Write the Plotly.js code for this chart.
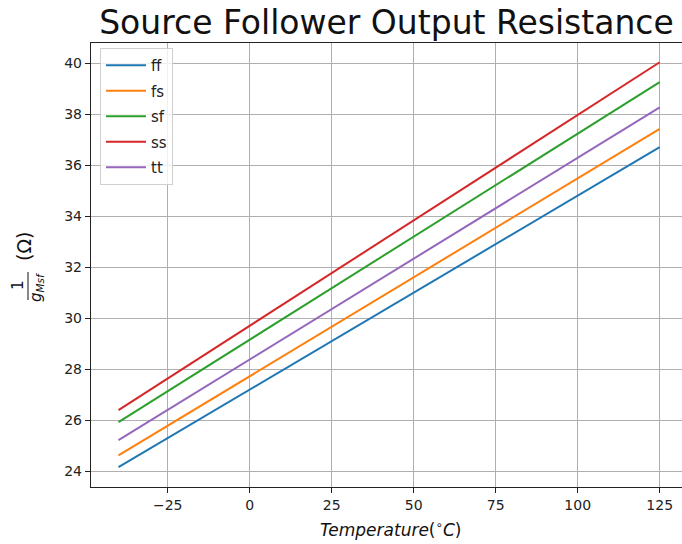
<!DOCTYPE html>
<html>
<head>
<meta charset="utf-8">
<script src="https://cdn.plot.ly/plotly-3.0.1.min.js"></script>
<style>html,body{margin:0;padding:0;background:#fff;}#chart{width:682px;height:544px;}</style>
</head>
<body>
<div id="chart"></div>
<script>
// Temperature sweep (°C)
const temperature = [-40, 125];
// Output resistance 1/gMsf (Ω) per process corner
const ff = [24.16, 36.71];
const fs = [24.62, 37.43];
const sf = [25.93, 39.26];
const ss = [26.40, 40.04];
const tt = [25.22, 38.27];

const seriesNames = ['ff', 'fs', 'sf', 'ss', 'tt'];
const seriesValues = [ff, fs, sf, ss, tt];
const colors = ['#1f77b4', '#ff7f0e', '#2ca02c', '#d62728', '#9467bd'];

const xTickVals = [-25, 0, 25, 50, 75, 100, 125];
const xTickText = ['\u221225', '0', '25', '50', '75', '100', '125'];
const yTickVals = [24, 26, 28, 30, 32, 34, 36, 38, 40];

const traces = seriesNames.map((n, i) => ({
  x: temperature,
  y: seriesValues[i],
  name: n,
  legendgroup: n,
  type: 'scatter',
  mode: 'lines',
  line: {color: colors[i], width: 2}
}));

const FONT = 'DejaVu Sans, sans-serif';
const L = 91, B = 57, T = 43, W = 682, H = 544;
const pw = W - L, ph = H - T - B;
const px = v => (v - L) / pw;
const py = v => (H - B - v) / ph;

const layout = {
  width: W, height: H,
  margin: {l: L, r: 0, t: T, b: B, pad: 0},
  paper_bgcolor: '#fff', plot_bgcolor: '#fff',
  font: {family: FONT, size: 14, color: '#222'},
  title: {text: 'Source Follower Output Resistance', font: {family: FONT, size: 33, color: '#111'},
          xref: 'paper', x: 0.5, xanchor: 'center', yref: 'container', y: 1 - 22/H, yanchor: 'middle'},
  showlegend: true,
  legend: {x: px(100), y: py(48), xanchor: 'left', yanchor: 'top',
           bgcolor: 'rgba(255,255,255,0.8)', bordercolor: '#d0d0d0', borderwidth: 1,
           itemwidth: 40,
           font: {family: FONT, size: 15, color: '#222'}, tracegroupgap: 3, traceorder: 'grouped'},
  xaxis: {range: [-48.38, 131.8], tickvals: xTickVals, ticktext: xTickText,
          showgrid: true, gridcolor: '#b0b0b0', gridwidth: 1, zeroline: false,
          showline: true, linecolor: '#222', linewidth: 1.2, mirror: true,
          ticks: 'outside', ticklen: 5, tickcolor: '#222', tickwidth: 1,
          tickfont: {family: FONT, size: 14, color: '#222'}},
  yaxis: {range: [23.384, 40.796], tickvals: yTickVals,
          showgrid: true, gridcolor: '#b0b0b0', gridwidth: 1, zeroline: false,
          showline: true, linecolor: '#222', linewidth: 1.2, mirror: false,
          ticks: 'outside', ticklen: 5, tickcolor: '#222', tickwidth: 1,
          tickfont: {family: FONT, size: 14, color: '#222'}},
  annotations: [
    {text: '<i>Temperature</i>(<sup>\u2218</sup><i>C</i>)', xref: 'paper', yref: 'paper',
     x: px(390.5), y: py(529), xanchor: 'center', yanchor: 'middle', showarrow: false,
     font: {family: FONT, size: 17, color: '#111'}},
    {text: '(\u03A9)', xref: 'paper', yref: 'paper', x: px(24), y: py(247), textangle: -90,
     xanchor: 'center', yanchor: 'middle', showarrow: false, font: {family: FONT, size: 19, color: '#111'}},
    {text: '1', xref: 'paper', yref: 'paper', x: px(18), y: py(285), textangle: -90,
     xanchor: 'center', yanchor: 'middle', showarrow: false, font: {family: FONT, size: 15, color: '#111'}},
    {text: '<i>g<sub>Msf</sub></i>', xref: 'paper', yref: 'paper', x: px(36), y: py(287), textangle: -90,
     xanchor: 'center', yanchor: 'middle', showarrow: false, font: {family: FONT, size: 15, color: '#111'}}
  ],
  shapes: [
    {type: 'line', xref: 'paper', yref: 'paper', x0: px(28), x1: px(28), y0: py(272), y1: py(300),
     line: {color: '#111', width: 1}}
  ]
};

Plotly.newPlot('chart', traces, layout, {displayModeBar: false, staticPlot: true});
</script>
</body>
</html>
